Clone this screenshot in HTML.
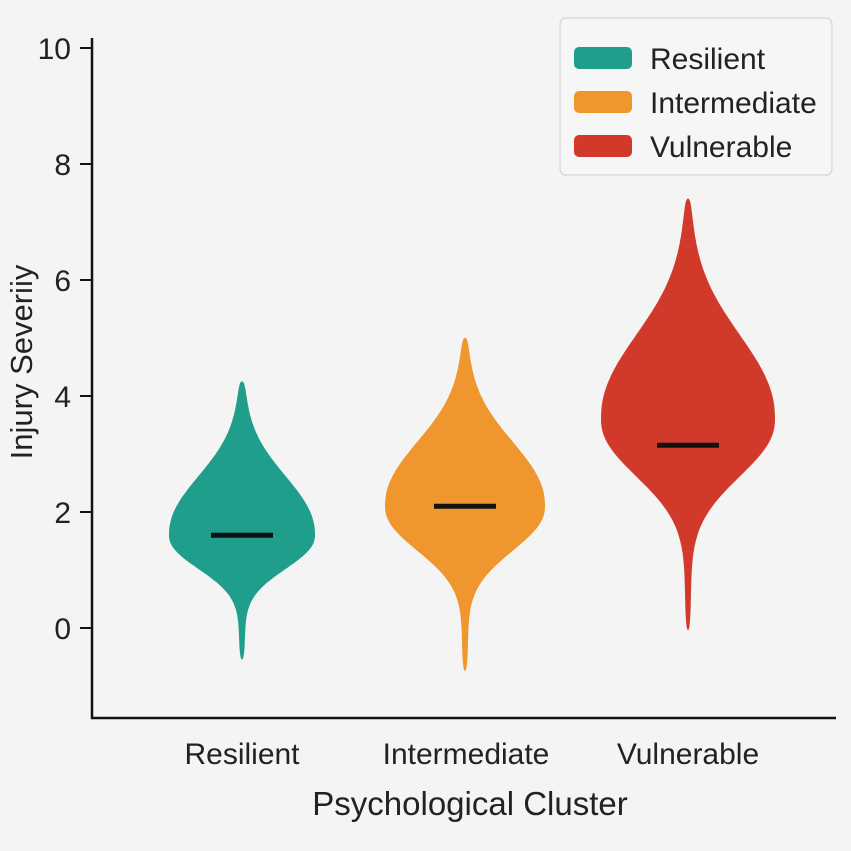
<!DOCTYPE html>
<html><head><meta charset="utf-8"><style>
html,body{margin:0;padding:0;background:#f4f4f4;}
svg{display:block;font-family:"Liberation Sans",sans-serif;}
</style></head><body>
<svg id="chart" width="851" height="851" viewBox="0 0 851 851">
<rect x="0" y="0" width="851" height="851" fill="#f4f4f4"/>
<g id="violins"></g>
<g id="axes"></g>
<text x="32" y="362" transform="rotate(-90 32 362)" text-anchor="middle" font-size="31" fill="#222">Injury Severiiy</text>
<text x="470" y="815" text-anchor="middle" font-size="33" fill="#222">Psychological Cluster</text>
<g>
<rect x="560" y="18" width="272" height="157" rx="6" fill="#f6f6f6" stroke="#cfcfcf"/>
<rect x="574" y="47" width="58" height="22" rx="5" fill="#1f9e8c"/>
<text x="650" y="69" font-size="30" fill="#222">Resilient</text>
<rect x="574" y="91" width="58" height="22" rx="5" fill="#f0962e"/>
<text x="650" y="113" font-size="30" fill="#222">Intermediate</text>
<rect x="574" y="135" width="58" height="22" rx="5" fill="#d13a2a"/>
<text x="650" y="157" font-size="30" fill="#222">Vulnerable</text>
</g>
</svg>
<script>
const categories = ["Resilient","Intermediate","Vulnerable"];
const mins = [-0.55,-0.75,-0.05];
const maxs = [4.25,5.0,7.4];
const modes = [1.6,2.1,3.6];
const medians = [1.6,2.1,3.15];
const spreadUp = [0.98,1.07,1.4];
const spreadDown = [0.56,0.74,0.95];
const yTicks = [0,2,4,6,8,10];
const colors = ["#1f9e8c","#f0962e","#d13a2a"];
const NS="http://www.w3.org/2000/svg";
const yScale = v => 628 - v*58;
const xScale = i => 242 + i*223;
const maxHalf = 70, axisX=92, axisY=718;
const vg=document.getElementById('violins');
categories.forEach((c,i)=>{
  const cx=xScale(i), n=160, right=[], left=[];
  for(let k=0;k<=n;k++){
    const v=mins[i]+(maxs[i]-mins[i])*k/n;
    const d=v-modes[i], s=d>=0?spreadUp[i]:spreadDown[i];
    const t=Math.abs(2*k/n-1);
    let hw=maxHalf*(1+i*0.1)*Math.exp(-Math.pow(Math.abs(d)/s,2.2)/2)+3*Math.sqrt(Math.max(0,1-Math.pow(t,12)));
    right.push([cx+hw,yScale(v)]); left.push([cx-hw,yScale(v)]);
  }
  const pts=right.concat(left.reverse());
  const p=document.createElementNS(NS,'path');
  p.setAttribute('d','M'+pts.map(q=>q[0].toFixed(1)+','+q[1].toFixed(1)).join('L')+'Z');
  p.setAttribute('fill',colors[i]);
  
  
  vg.appendChild(p);
  const m=document.createElementNS(NS,'line');
  m.setAttribute('x1',cx-31);m.setAttribute('x2',cx+31);
  m.setAttribute('y1',yScale(medians[i]));m.setAttribute('y2',yScale(medians[i]));
  m.setAttribute('stroke','#111');m.setAttribute('stroke-width','5');
  
  
  vg.appendChild(m);
  const t=document.createElementNS(NS,'text');
  t.setAttribute('x',cx+(i===1?1:0));t.setAttribute('y',764);t.setAttribute('text-anchor','middle');
  t.setAttribute('font-size','30');t.setAttribute('fill','#222');
  t.textContent=c;
  
  
  vg.appendChild(t);
});
const ag=document.getElementById('axes');
const ya=document.createElementNS(NS,'path');
ya.setAttribute('d','M'+axisX+',38V'+axisY+'H836');
ya.setAttribute('stroke','#111');ya.setAttribute('stroke-width','2.5');ya.setAttribute('fill','none');


ag.appendChild(ya);
yTicks.forEach(v=>{
  const l=document.createElementNS(NS,'line');
  l.setAttribute('x1',80);l.setAttribute('x2',axisX);
  l.setAttribute('y1',yScale(v));l.setAttribute('y2',yScale(v));
  l.setAttribute('stroke','#111');l.setAttribute('stroke-width','2');
  
  
  ag.appendChild(l);
  const t=document.createElementNS(NS,'text');
  t.setAttribute('x',71);t.setAttribute('y',yScale(v)+11);t.setAttribute('text-anchor','end');
  t.setAttribute('font-size','30');t.setAttribute('fill','#222');
  t.textContent=v;
  
  
  ag.appendChild(t);
});
</script>
</body></html>
